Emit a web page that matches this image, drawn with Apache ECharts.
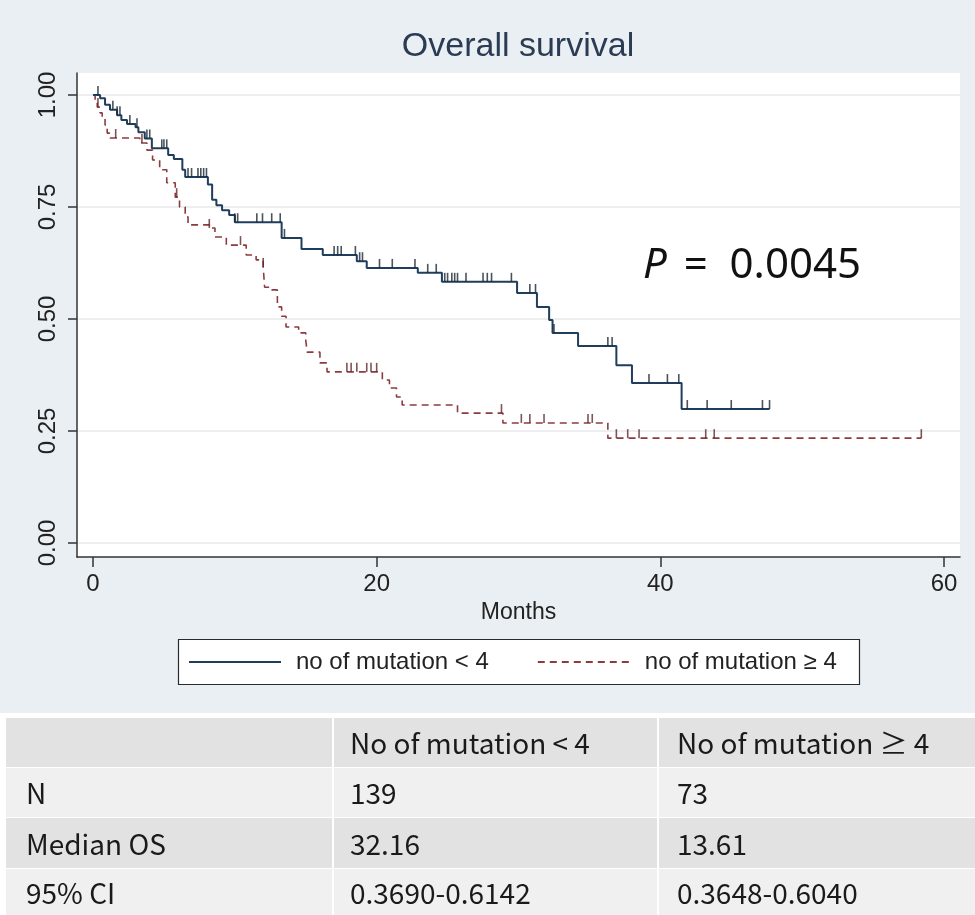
<!DOCTYPE html>
<html>
<head>
<meta charset="utf-8">
<title>Overall survival</title>
<script src="https://cdn.jsdelivr.net/npm/echarts@6/dist/echarts.min.js"></script>
<style>
  html, body { margin: 0; padding: 0; background: #ffffff; }
  #chart { width: 975px; height: 915px; }
</style>
</head>
<body>
<div id="chart"></div>
<script>
// Kaplan–Meier estimates: time (months) at which each step starts, and the survival level from there on.
const LT4_TIME = [0, 0.5, 0.85, 1.2, 1.7, 2.0, 2.4, 3.0, 3.2, 3.65, 4.15, 5.3, 5.7, 6.3, 6.5, 8.1, 8.4, 8.7, 9.1, 9.6, 10.0,
  13.3, 14.7, 16.2, 18.6, 19.3, 22.9, 24.6, 29.9, 31.3, 32.16, 32.4, 34.2, 36.9, 38.0, 41.5, 47.7];
const LT4_SURV = [1.0, 0.993, 0.978, 0.967, 0.955, 0.944, 0.935, 0.928, 0.917, 0.903, 0.881, 0.866, 0.857, 0.833, 0.817, 0.80, 0.766, 0.754, 0.743, 0.732, 0.716,
  0.681, 0.656, 0.643, 0.629, 0.614, 0.603, 0.583, 0.558, 0.527, 0.498, 0.469, 0.440, 0.397, 0.357, 0.299, 0.299];
const LT4_CENSOR = [0.35, 1.4, 1.7, 1.9, 2.6, 3.1, 3.8, 4.0, 4.85, 5.0, 5.2, 6.7, 6.95, 7.4, 7.6, 7.8, 8.0, 10.0, 10.2,
  11.55, 11.95, 12.6, 13.2, 13.5, 17.0, 17.25, 17.5, 18.5, 18.8, 19.0, 20.2, 21.1, 22.7, 23.6, 24.2, 24.8, 25.0, 25.3,
  25.5, 25.7, 26.3, 27.5, 27.8, 28.1, 29.5, 30.8, 31.2, 32.5, 36.3, 36.6, 39.2, 40.5, 41.3, 41.9, 43.3, 45.0, 47.2, 47.7];

const GE4_TIME = [0, 0.15, 0.3, 0.5, 0.65, 0.85, 1.0, 1.2, 3.3, 3.8, 4.2, 4.7, 5.2, 5.8, 6.1, 6.5, 6.7, 8.2, 8.6, 9.4,
  10.8, 11.5, 12.0, 12.1, 12.6, 13.0, 13.3, 13.61, 14.5, 15.0, 15.1, 16.0, 16.5, 20.4, 20.9, 21.4, 21.8, 25.7, 28.9, 36.3, 58.4];
const GE4_SURV = [1.0, 0.984, 0.973, 0.96, 0.949, 0.933, 0.915, 0.904, 0.893, 0.877, 0.855, 0.833, 0.804, 0.772, 0.75, 0.728, 0.71, 0.703, 0.683, 0.665,
  0.643, 0.632, 0.616, 0.571, 0.565, 0.527, 0.506, 0.482, 0.469, 0.453, 0.426, 0.402, 0.382, 0.364, 0.346, 0.326, 0.308, 0.29, 0.268, 0.234, 0.234];
const GE4_CENSOR = [0.35, 1.6, 3.45, 5.9, 8.2, 10.4, 12.0, 17.9, 18.2, 18.6, 19.3, 19.6, 20.0, 28.8, 30.2, 30.8, 31.8,
  34.9, 35.2, 36.9, 37.7, 38.5, 43.2, 43.8, 58.4];

const SERIES_NAMES = ['no of mutation < 4', 'no of mutation \u2265 4'];
const X_TICKS = [0, 20, 40, 60];
const Y_TICKS = [0, 0.25, 0.5, 0.75, 1];
const TITLE = 'Overall survival';
const X_NAME = 'Months';
const P_VALUE = '0.0045';

const TABLE_HEADER = ['', 'No of mutation < 4', 'No of mutation \u2265 4'];
const TABLE_ROWS = [
  ['N', '139', '73'],
  ['Median OS', '32.16', '13.61'],
  ['95% CI', '0.3690-0.6142', '0.3648-0.6040']
];

// ---- helpers -------------------------------------------------------------
function stepPoints(times, surv) {
  return times.map((t, i) => [t, surv[i]]);
}
function survivalAt(times, surv, t) {
  let v = surv[0];
  for (let i = 0; i < times.length; i++) {
    if (times[i] <= t) v = surv[i];
  }
  return v;
}
function censorPoints(times, surv, cens) {
  return cens.map(c => [c, survivalAt(times, surv, c)]);
}

// ---- styling -------------------------------------------------------------
const NAVY = '#1f3d5c';
const MAROON = '#8c3b3f';
const AXIS_COLOR = '#333333';
const FONT = '"Liberation Sans", Arial, sans-serif';
const TABLE_FONT = '"Noto Sans CJK KR", "Noto Sans", sans-serif';

// ---- summary table (drawn as graphic elements) -----------------------------
const COL_X = [6, 334, 659];
const COL_W = [326, 323, 316];
const ROW_Y = [718, 768, 818, 869];
const ROW_H = [49, 49, 50, 46];
const ROW_FILL = ['#e2e2e2', '#f0f0f0', '#e2e2e2', '#f0f0f0'];
const TEXT_X = [26, 350, 677];

const graphics = [];
graphics.push({ type: 'rect', z: -10, shape: { x: 0, y: 713, width: 975, height: 202 }, style: { fill: '#ffffff' } });
graphics.push({
  type: 'text', x: 518, y: 47,
  style: { text: TITLE, fontSize: 34, fontFamily: FONT, fill: '#2b3b53', align: 'center', verticalAlign: 'middle' }
});
graphics.push({
  type: 'text', x: 643, y: 266,
  style: {
    text: '{p|P} =  ' + P_VALUE,
    fontSize: 42, fontFamily: '"Noto Sans", sans-serif', fill: '#111111', verticalAlign: 'middle',
    rich: { p: { fontStyle: 'italic', fontSize: 42, fontFamily: '"Noto Sans", sans-serif', fill: '#111111', padding: [0, 6, 0, 0] } }
  }
});
graphics.push({
  type: 'rect', z: 1, shape: { x: 178.5, y: 639.5, width: 681, height: 45 },
  style: { fill: '#ffffff', stroke: '#2a2a2a', lineWidth: 1.2 }
});

[TABLE_HEADER].concat(TABLE_ROWS).forEach((row, r) => {
  row.forEach((cell, c) => {
    graphics.push({
      type: 'rect', z: 1,
      shape: { x: COL_X[c], y: ROW_Y[r], width: COL_W[c], height: ROW_H[r] },
      style: { fill: ROW_FILL[r] }
    });
    if (cell) {
      graphics.push({
        type: 'text', z: 2, x: TEXT_X[c], y: ROW_Y[r] + ROW_H[r] / 2 + 1,
        style: { text: cell, fontSize: 28, fontFamily: TABLE_FONT, fill: '#1a1a1a', verticalAlign: 'middle' }
      });
    }
  });
});

// ---- chart ---------------------------------------------------------------
const chart = echarts.init(document.getElementById('chart'), null, { renderer: 'canvas' });

const option = {
  animation: false,
  backgroundColor: '#e9eff3',
  textStyle: { fontFamily: FONT },
  grid: {
    left: 77, right: 15, top: 73, bottom: 358,
    show: true, backgroundColor: '#ffffff', borderWidth: 0
  },
  xAxis: {
    type: 'value',
    min: -1.128, max: 61.128,
    axisLine: { show: true, onZero: false, lineStyle: { color: AXIS_COLOR, width: 1.5 } },
    axisTick: { show: true, customValues: X_TICKS, length: 10, lineStyle: { color: AXIS_COLOR, width: 1.5 } },
    axisLabel: { customValues: X_TICKS, fontSize: 24, color: '#222222', margin: 15, fontFamily: FONT },
    splitLine: { show: false },
    name: X_NAME, nameLocation: 'middle', nameGap: 38,
    nameTextStyle: { fontSize: 23, color: '#222222', fontFamily: FONT }
  },
  yAxis: {
    type: 'value',
    min: -0.03125, max: 1.0491,
    axisLine: { show: true, onZero: false, lineStyle: { color: AXIS_COLOR, width: 1.5 } },
    axisTick: { show: true, customValues: Y_TICKS, length: 9, lineStyle: { color: AXIS_COLOR, width: 1.5 } },
    axisLabel: {
      customValues: Y_TICKS, rotate: 90, fontSize: 24, color: '#222222', margin: 17, fontFamily: FONT,
      formatter: v => v.toFixed(2)
    },
    splitLine: { show: true, lineStyle: { color: '#e9e9e9', width: 1.5 } }
  },
  legend: {
    data: SERIES_NAMES,
    left: 188, top: 650, padding: 0,
    itemWidth: 92, itemHeight: 14, itemGap: 48,
    selectedMode: false,
    itemStyle: { opacity: 0 },
    textStyle: { fontSize: 24, color: '#222222', fontFamily: FONT, padding: [0, 0, 0, 10] }
  },
  graphic: graphics,
  series: [
    {
      name: SERIES_NAMES[0], type: 'line', step: 'end', symbol: 'none',
      data: stepPoints(LT4_TIME, LT4_SURV),
      lineStyle: { color: NAVY, width: 2 }, itemStyle: { color: NAVY }, z: 3
    },
    {
      name: SERIES_NAMES[1], type: 'line', step: 'end', symbol: 'none',
      data: stepPoints(GE4_TIME, GE4_SURV),
      lineStyle: { color: MAROON, width: 1.6, type: [7, 5] }, itemStyle: { color: MAROON }, z: 2
    },
    {
      name: 'censored < 4', type: 'scatter', symbol: 'rect', symbolSize: [1.6, 9], symbolOffset: [0, '-50%'],
      data: censorPoints(LT4_TIME, LT4_SURV, LT4_CENSOR),
      itemStyle: { color: '#1b2835' }, z: 4
    },
    {
      name: 'censored \u2265 4', type: 'scatter', symbol: 'rect', symbolSize: [1.6, 9], symbolOffset: [0, '-50%'],
      data: censorPoints(GE4_TIME, GE4_SURV, GE4_CENSOR),
      itemStyle: { color: '#5e2a2d' }, z: 4
    }
  ]
};

chart.setOption(option);
</script>
</body>
</html>
